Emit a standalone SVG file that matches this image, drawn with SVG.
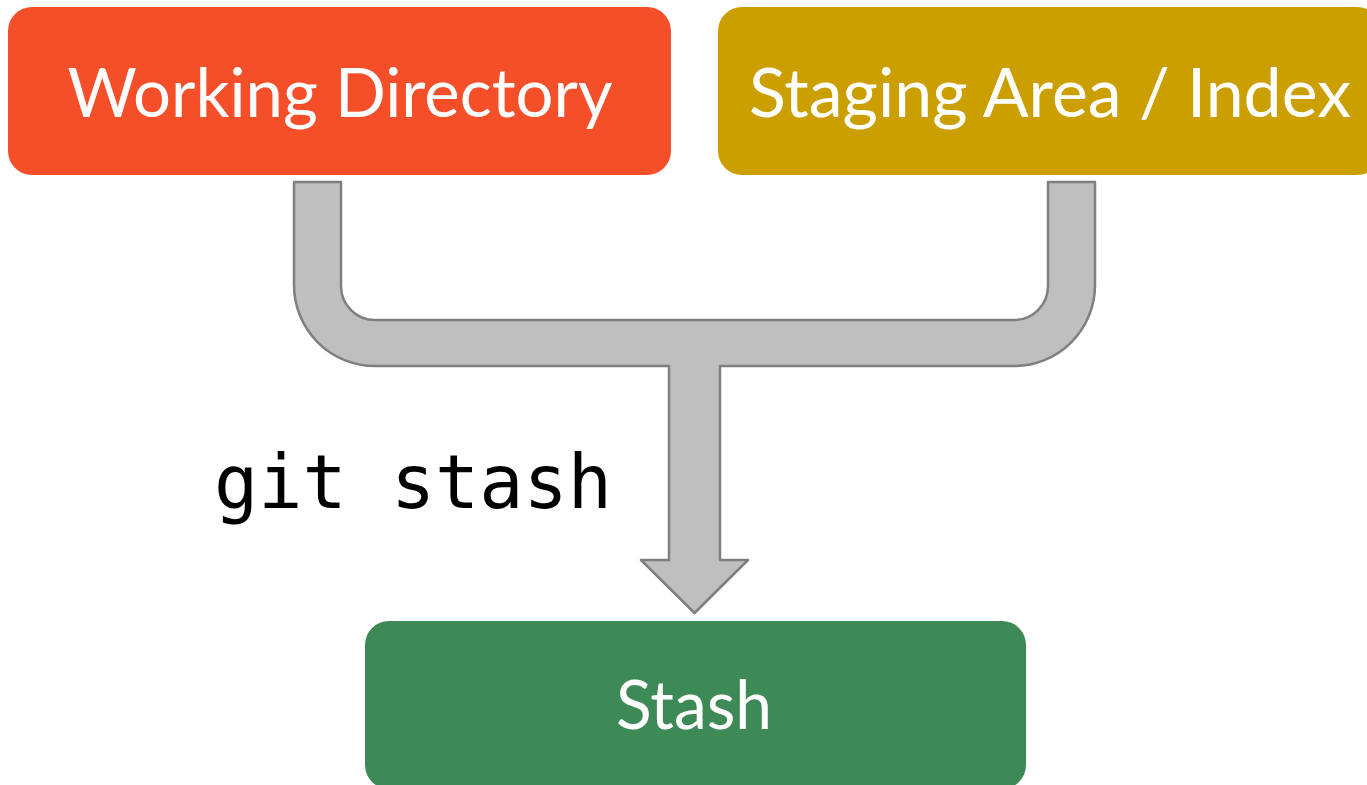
<svg xmlns="http://www.w3.org/2000/svg" width="1367" height="785" viewBox="0 0 1367 785">
  <style>
    .box { stroke: none; }
    .label { font-family: Lato, "Open Sans", "Liberation Sans", sans-serif; font-size: 68px; fill: #ffffff; text-anchor: middle; }
    .cmd { font-family: "DejaVu Sans Mono", "Liberation Mono", monospace; font-size: 74px; fill: #000000; }
    .flow { fill: #bfbfbf; stroke: #7f7f7f; stroke-width: 2.5; stroke-linejoin: round; }
  </style>
  <rect width="1367" height="785" fill="#ffffff"/>
  <g id="connectors">
    <path class="flow" d="M294,182 L341,182 L341,286 A34,34 0 0 0 375,320 L1014,320 A34,34 0 0 0 1048,286 L1048,182 L1095,182 L1095,285 A81,81 0 0 1 1014,366 L720,366 L720,560 L748,560 L694.5,613 L641,560 L669,560 L669,366 L375,366 A81,81 0 0 1 294,285 Z"/>
    <text class="cmd" x="214" y="508" textLength="398" lengthAdjust="spacingAndGlyphs">git stash</text>
  </g>
  <g id="working-directory">
    <rect class="box" x="8" y="7" width="663" height="168" rx="24" ry="24" fill="#f54f29"/>
    <text class="label" x="340" y="117" textLength="545" lengthAdjust="spacingAndGlyphs">Working Directory</text>
  </g>
  <g id="staging-area">
    <rect class="box" x="718" y="7" width="663" height="168" rx="24" ry="24" fill="#cc9f00"/>
    <text class="label" x="1050" y="117" textLength="602" lengthAdjust="spacingAndGlyphs">Staging Area / Index</text>
  </g>
  <g id="stash">
    <rect class="box" x="365" y="621" width="661" height="168" rx="24" ry="24" fill="#3e8a56"/>
    <text class="label" x="694" y="729" textLength="156" lengthAdjust="spacingAndGlyphs">Stash</text>
  </g>
</svg>
